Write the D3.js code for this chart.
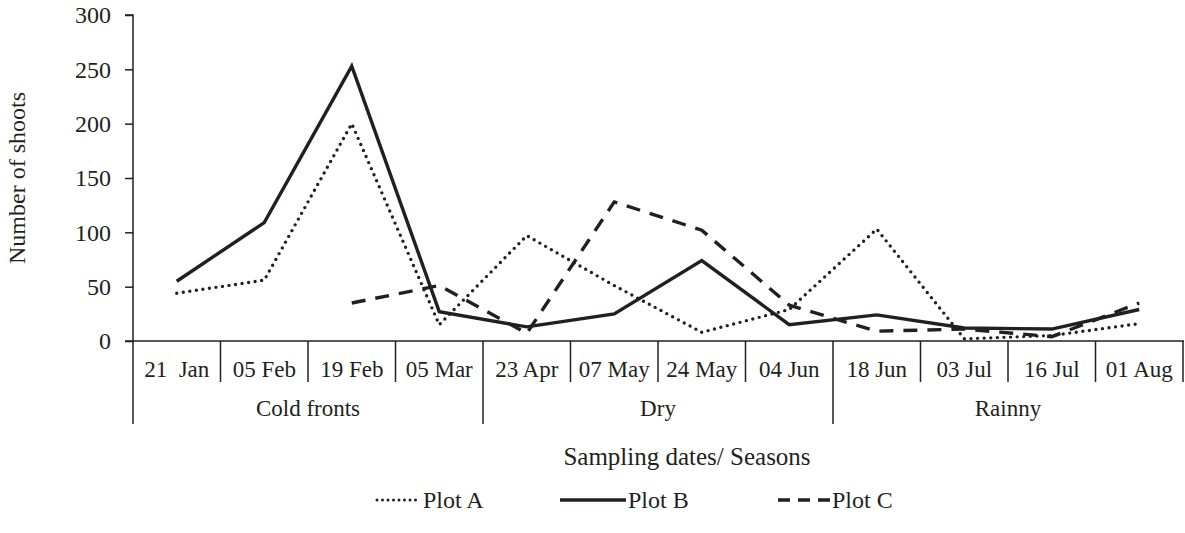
<!DOCTYPE html>
<html>
<head>
<meta charset="utf-8">
<script src="https://cdn.jsdelivr.net/npm/d3@7"></script>
<style>
  html, body { margin: 0; padding: 0; background: #fff; }
  svg { display: block; }
  text { font-family: "Liberation Serif", "Times New Roman", serif; fill: #231f20; }
</style>
</head>
<body>
<script>
// ---- data ----
const dates = ["21  Jan", "05 Feb", "19 Feb", "05 Mar", "23 Apr", "07 May", "24 May", "04 Jun", "18 Jun", "03 Jul", "16 Jul", "01 Aug"];
const seasonNames = ["Cold fronts", "Dry", "Rainny"];
const seasonStart = [0, 4, 8];
const seasonEnd = [3, 7, 11];
const plotA = [44, 56, 200, 15, 97, 51, 8, 29, 103, 2, 5, 16];
const plotB = [55, 109, 253, 27, 13, 25, 74, 15, 24, 12, 11, 29];
const plotC = [null, null, 35, 51, 7, 128, 102, 33, 9, 11, 4, 35];
const yTicks = [0, 50, 100, 150, 200, 250, 300];
const seriesNames = ["Plot A", "Plot B", "Plot C"];

// ---- layout ----
const W = 1185, H = 533;
const mLeft = 133, mRight = 1183, mTop = 15, mBottom = 341;
const ink = "#231f20";

const svg = d3.select("body").append("svg").attr("width", W).attr("height", H);

const x = d3.scaleBand().domain(d3.range(dates.length)).range([mLeft, mRight]).paddingInner(0).paddingOuter(0);
const y = d3.scaleLinear().domain([0, 300]).range([mBottom, mTop]);
const cx = i => x(i) + x.bandwidth() / 2;

// y axis
const yAxis = d3.axisLeft(y).tickValues(yTicks).tickSize(8).tickPadding(14).tickFormat(d3.format("d"));
const gy = svg.append("g").attr("transform", `translate(${mLeft},0)`).call(yAxis);
gy.select(".domain").attr("stroke", ink).attr("stroke-width", 1.5).attr("d", `M-8,${mTop}H0V${mBottom}`);
gy.selectAll(".tick line").attr("stroke", ink).attr("stroke-width", 1.5);
gy.selectAll(".tick text").attr("font-size", 24).attr("fill", ink)
  .style("font-family", '"Liberation Serif", "Times New Roman", serif');

// x axis baseline
svg.append("line").attr("x1", mLeft - 8).attr("x2", mRight + 1).attr("y1", mBottom).attr("y2", mBottom)
  .attr("stroke", ink).attr("stroke-width", 1.5);

// date separators
const dateRowBottom = 382, seasonRowBottom = 424;
const bounds = d3.range(dates.length + 1).map(i => i < dates.length ? x(i) : mRight);
svg.append("g").selectAll("line").data(bounds).join("line")
  .attr("x1", d => d).attr("x2", d => d)
  .attr("y1", mBottom).attr("y2", (d, i) => (i === 0 || seasonStart.includes(i)) ? seasonRowBottom : dateRowBottom)
  .attr("stroke", ink).attr("stroke-width", 1.5);

// date labels
svg.append("g").selectAll("text").data(dates).join("text")
  .attr("x", (d, i) => cx(i)).attr("y", 377)
  .attr("text-anchor", "middle").attr("font-size", 23)
  .style("white-space", "pre")
  .text(d => d);

// season labels
svg.append("g").selectAll("text").data(seasonNames).join("text")
  .attr("x", (d, i) => (x(seasonStart[i]) + x(seasonEnd[i]) + x.bandwidth()) / 2).attr("y", 416)
  .attr("text-anchor", "middle").attr("font-size", 23)
  .text(d => d);

// axis titles
svg.append("text").attr("transform", `translate(25,${(mTop + mBottom) / 2}) rotate(-90)`)
  .attr("text-anchor", "middle").attr("font-size", 24).text("Number of shoots");
svg.append("text").attr("x", 687).attr("y", 465)
  .attr("text-anchor", "middle").attr("font-size", 25).text("Sampling dates/ Seasons");

// lines
const styles = [
  { dash: "0,6.6", cap: "round", width: 3.4 },
  { dash: null, cap: "butt", width: 3.4 },
  { dash: "14,10", cap: "butt", width: 3.4 }
];
const series = [plotA, plotB, plotC];
const line = d3.line().defined(d => d.v != null).x(d => cx(d.i)).y(d => y(d.v));
series.forEach((s, k) => {
  svg.append("path")
    .datum(s.map((v, i) => ({ i, v })))
    .attr("d", line)
    .attr("fill", "none")
    .attr("stroke", ink)
    .attr("stroke-width", styles[k].width)
    .attr("stroke-linecap", styles[k].cap)
    .attr("stroke-linejoin", "miter")
    .attr("stroke-dasharray", styles[k].dash);
});

// legend
const legX = [377, 560, 778];
const legLen = [44, 66, 52];
const legY = 500;
const legStyles = [
  { dash: "0,5.5", cap: "round", width: 3 },
  { dash: null, cap: "butt", width: 3.4 },
  { dash: "12,8", cap: "butt", width: 3.4 }
];
seriesNames.forEach((n, k) => {
  svg.append("line").attr("x1", legX[k]).attr("x2", legX[k] + legLen[k])
    .attr("y1", legY).attr("y2", legY)
    .attr("stroke", ink).attr("stroke-width", legStyles[k].width)
    .attr("stroke-linecap", legStyles[k].cap)
    .attr("stroke-dasharray", legStyles[k].dash);
  svg.append("text").attr("x", legX[k] + legLen[k] + 2).attr("y", 508)
    .attr("font-size", 24).text(n);
});
</script>
</body>
</html>
